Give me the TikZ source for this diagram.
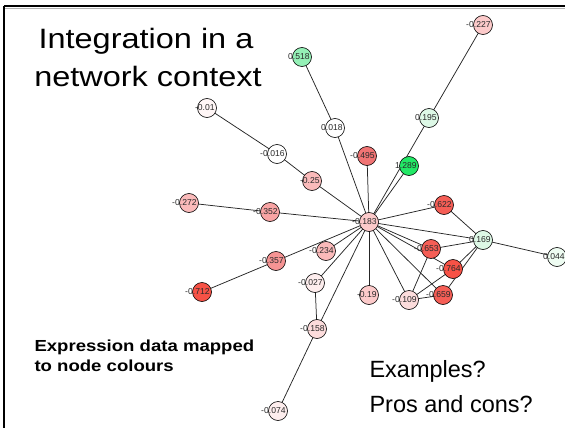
\documentclass[tikz,border=0pt]{standalone}
\usepackage{fontspec}
\setmainfont{Liberation Sans}
\newfontfamily\widefont[FakeStretch=1.16]{Liberation Sans}
\pgfdeclarelayer{edges}
\pgfsetlayers{edges,main}

% node fill colours (expression level)
\definecolor{cWhite}{HTML}{FFFFFF}
\definecolor{cW1}{HTML}{FFF6F6}
\definecolor{cW2}{HTML}{FDEDED}
\definecolor{cP1}{HTML}{FCDCDC}
\definecolor{cP2}{HTML}{FCCACA}
\definecolor{cP3}{HTML}{FABABA}
\definecolor{cP4}{HTML}{F8A4A4}
\definecolor{cP5}{HTML}{F69494}
\definecolor{cR1}{HTML}{F07474}
\definecolor{cR2}{HTML}{F55E56}
\definecolor{cR3}{HTML}{F75246}
\definecolor{cG0}{HTML}{EEFCF2}
\definecolor{cG1}{HTML}{DDF8E6}
\definecolor{cG2}{HTML}{94F0B6}
\definecolor{cG3}{HTML}{22E866}
\definecolor{lbl}{HTML}{2A2A2A}

\tikzset{
  gn/.style={circle,draw=black,line width=0.6pt,minimum size=19pt,inner sep=0pt},
  gl/.style={font=\fontsize{8.6}{8.6}\selectfont,text=lbl,inner sep=0pt},
  ge/.style={draw=black!85,line width=0.75pt},
  frame/.style={line width=2.6pt,black},
}

% \gnode{name}{x,y}{fill}{value}
\newcommand\gnode[4]{%
  \node[gn,fill=#3] (#1) at (#2) {};
  \node[gl,anchor=east] (#1-l) at ([xshift=7.8pt]#1.center) {#4};
}

\begin{document}
\begin{tikzpicture}[x=1pt,y=-1pt]
\useasboundingbox (0,0) rectangle (565,428);

% slide frame
\draw[black!30,line width=0.8pt] (4,8.6) -- (565,8.6);
\draw[frame] (4,6) -- (565,6);
\draw[frame] (4,6) -- (4,428);

% titles and notes
\node[anchor=base,font=\widefont\fontsize{28}{28}\selectfont] (t1) at (146,49) {Integration in a};
\node[anchor=base,font=\widefont\fontsize{28}{28}\selectfont] (t2) at (148,87) {network context};
\node[anchor=base west,font=\widefont\bfseries\fontsize{16}{16}\selectfont] (n1) at (31,351) {Expression data mapped};
\node[anchor=base west,font=\widefont\bfseries\fontsize{16}{16}\selectfont] (n2) at (31,371) {to node colours};
\node[anchor=base west,font=\fontsize{23.5}{23.5}\selectfont] (q1) at (366,377) {Examples?};
\node[anchor=base west,font=\fontsize{23.5}{23.5}\selectfont] (q2) at (366,412) {Pros and cons?};

% network nodes
\gnode{a227}{483,25}{cP2}{-0.227}
\gnode{a195}{429,118}{cG1}{0.195}
\gnode{a518}{302,57}{cG2}{0.518}
\gnode{a018}{335,128}{cWhite}{0.018}
\gnode{a01}{207,108}{cW1}{-0.01}
\gnode{a016}{277,154}{cWhite}{-0.016}
\gnode{a25}{312,181}{cP3}{-0.25}
\gnode{a495}{367,156}{cR1}{-0.495}
\gnode{a272}{189,203}{cP3}{-0.272}
\gnode{a352}{270,212}{cP4}{-0.352}
\gnode{a183}{369,222}{cP2}{-0.183}
\gnode{a234}{326,251}{cP3}{-0.234}
\gnode{a357}{276,261}{cP5}{-0.357}
\gnode{a289}{409,166}{cG3}{1.289}
\gnode{a622}{444,205}{cR2}{-0.622}
\gnode{a169}{483,240}{cG1}{0.169}
\gnode{a044}{557,257}{cG0}{0.044}
\gnode{a653}{431,249}{cR2}{-0.653}
\gnode{a764}{453,269}{cR3}{-0.764}
\gnode{a659}{443,295}{cR2}{-0.659}
\gnode{a109}{409,300}{cP1}{-0.109}
\gnode{a19}{369,295}{cP2}{-0.19}
\gnode{a027}{315,283}{cW2}{-0.027}
\gnode{a158}{317,329}{cP1}{-0.158}
\gnode{a712}{202,292}{cR3}{-0.712}
\gnode{a074}{278,411}{cW2}{-0.074}

% interactions
\begin{pgfonlayer}{edges}
\foreach \u/\v in {a227/a195, a195/a183, a289/a183, a518/a018, a018/a183,
    a01/a016, a016/a25, a25/a183, a495/a183, a272/a352, a352/a183,
    a712/a357, a357/a183, a234/a183, a027/a183, a027/a158, a158/a183,
    a158/a074, a19/a183, a109/a183, a659/a183, a653/a183, a764/a183,
    a622/a183, a169/a183, a622/a169, a169/a044, a653/a169, a764/a169,
    a659/a169, a653/a109, a764/a109, a659/a109}
  \draw[ge] (\u.center) -- (\v.center);
\end{pgfonlayer}
\end{tikzpicture}
\end{document}
